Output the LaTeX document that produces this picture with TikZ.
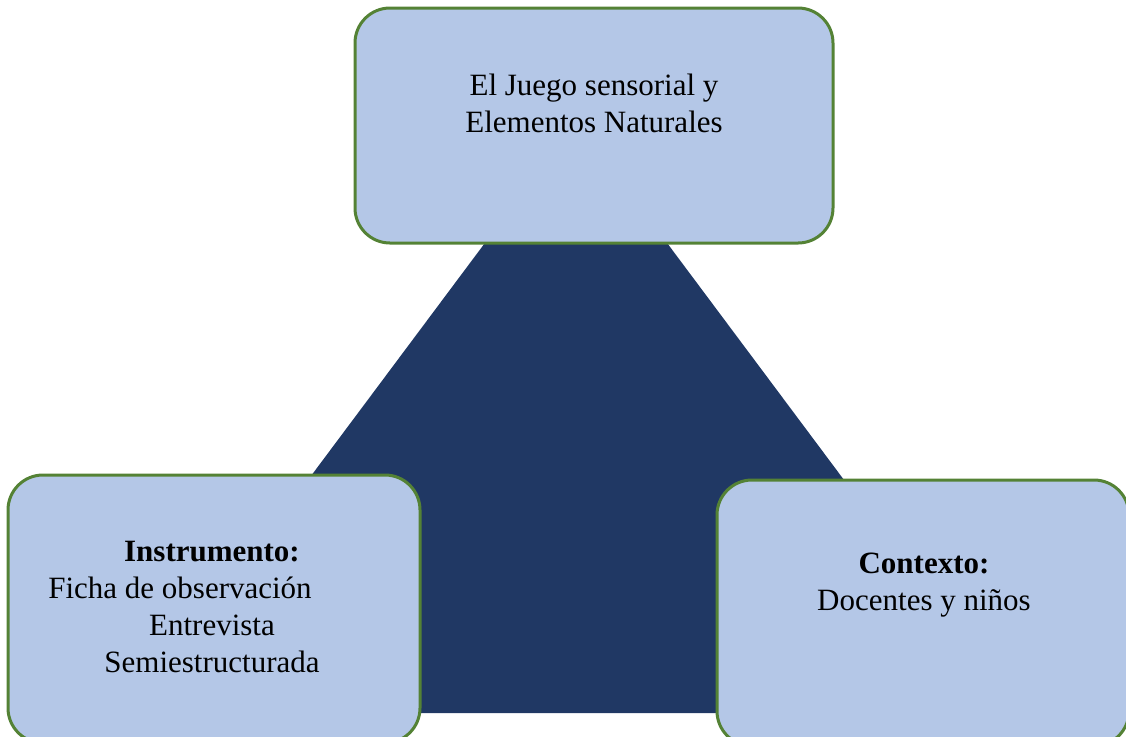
\documentclass[tikz,border=0pt]{standalone}
\usepackage{fontspec}
\setmainfont{Liberation Serif}
\definecolor{boxfill}{HTML}{B4C7E7}
\definecolor{boxline}{HTML}{548235}
\definecolor{navy}{HTML}{203864}

\begin{document}
\begin{tikzpicture}[x=0.5pt, y=-0.5pt]
	\tikzstyle{panel}   = [rectangle, rounded corners=17.5pt, draw=boxline, line width=1.5pt, fill=boxfill, inner sep=0pt]
	\tikzstyle{boxtext} = [align=center, inner sep=0pt, font=\fontsize{15.5}{18.5}\selectfont]

	\useasboundingbox (0,0) rectangle (1126,736);

	% dark triangle behind the boxes
	\coordinate (apex) at (576,121);
	\coordinate (baseL) at (134,713);
	\coordinate (baseR) at (1018,713);
	\fill[navy] (apex) -- (baseL) -- (baseR) -- cycle;

	\foreach \name/\x/\y/\w/\h in {juego/594/125.5/239pt/117.5pt, instrumento/214/609/206pt/134pt, contexto/923/613/206pt/133pt}
		\node[panel, minimum width=\w, minimum height=\h] (\name) at (\x, \y) {};

	\node[boxtext] (juegotext) at (594,103) {El Juego sensorial y\\Elementos Naturales};
	\node[boxtext] (instrtext) at (212,607) {\textbf{Instrumento:}\\Ficha de observación\hspace*{32pt}\mbox{}\\Entrevista\\Semiestructurada};
	\node[boxtext] (ctxtext) at (924,585) {\textbf{Contexto:}\\Docentes y niños};
\end{tikzpicture}
\end{document}
